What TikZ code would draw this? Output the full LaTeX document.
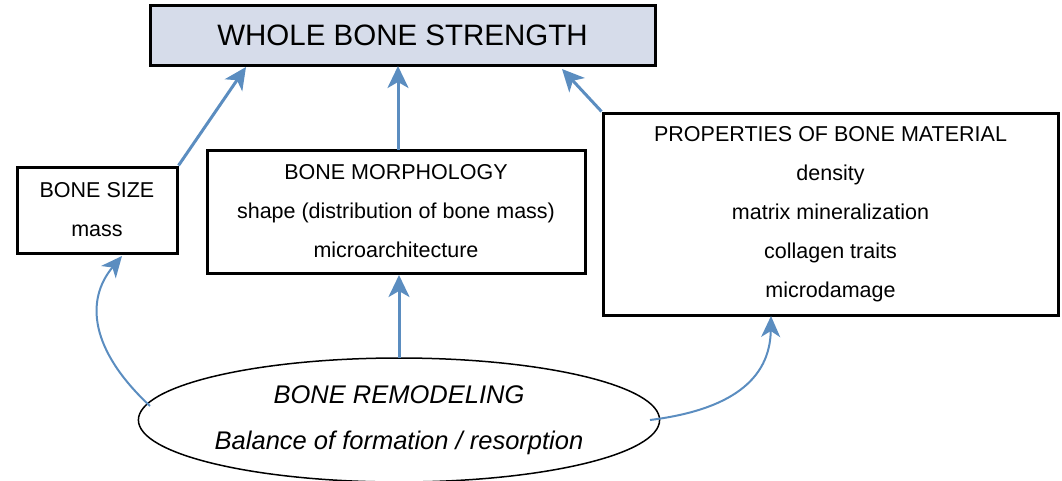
\documentclass[tikz,border=0pt]{standalone}
\usepackage{fontspec}
\setmainfont{Liberation Sans}
\usetikzlibrary{arrows.meta,shapes.geometric,calc}
\definecolor{arrowblue}{RGB}{91,141,192}
\definecolor{topfill}{RGB}{214,220,234}
\begin{document}
\begin{tikzpicture}[x=1pt,y=-1pt,
  box/.style={draw=black,line width=3pt,rectangle,inner sep=0pt,align=center,
    font=\fontsize{21.5}{39}\selectfont},
  conn/.style={draw=arrowblue,line width=3pt,-{Stealth[length=22pt,width=21pt,inset=6pt]}},
  curveconn/.style={draw=arrowblue,line width=2pt,-{Stealth[length=21pt,width=19pt,inset=6pt]}}]
\useasboundingbox (0,0) rectangle (1062,480);
\begin{scope}
\clip (0,0) rectangle (1062,480);
\node[draw=black,line width=1.5pt,ellipse,minimum width=502pt,minimum height=124pt,inner sep=0pt,align=center,
  font=\fontsize{25.5}{46}\selectfont\itshape] (remod) at (399,420)
  {BONE REMODELING\\Balance of formation / resorption};
\end{scope}
\node[box,fill=topfill,minimum width=505pt,minimum height=60pt,font=\fontsize{29.5}{36}\selectfont] (top) at (402.5,35) {\raisebox{-1.5pt}{WHOLE BONE STRENGTH}};
\node[box,minimum width=160pt,minimum height=86pt] (size) at (97,210) {BONE SIZE\\mass};
\node[box,minimum width=378pt,minimum height=123pt] (morph) at (396,211.5) {BONE MORPHOLOGY\\shape (distribution of bone mass)\\microarchitecture};
\node[box,minimum width=455pt,minimum height=202pt] (prop) at (830.5,214) {PROPERTIES OF BONE MATERIAL\\density\\matrix mineralization\\collagen traits\\microdamage};
\coordinate (t1) at (246,67);
\coordinate (t3) at (562,69);
\coordinate (m1) at (398,150);
\coordinate (t2) at (398,66);
\coordinate (e1) at (399,358);
\coordinate (m2) at (399,275);
\coordinate (eL) at (150,406);
\coordinate (sB) at (122,256);
\coordinate (eR) at (650,420);
\coordinate (pB) at (771,316);
\draw[conn] (size.north east) -- (t1);
\draw[conn] (m1) -- (t2);
\draw[conn] (prop.north west) -- (t3);
\draw[conn] (e1) -- (m2);
\draw[curveconn] (eL) .. controls (90,350) and (85,300) .. (sB);
\draw[curveconn] (eR) .. controls (730,410) and (770,380) .. (pB);
\end{tikzpicture}
\end{document}
